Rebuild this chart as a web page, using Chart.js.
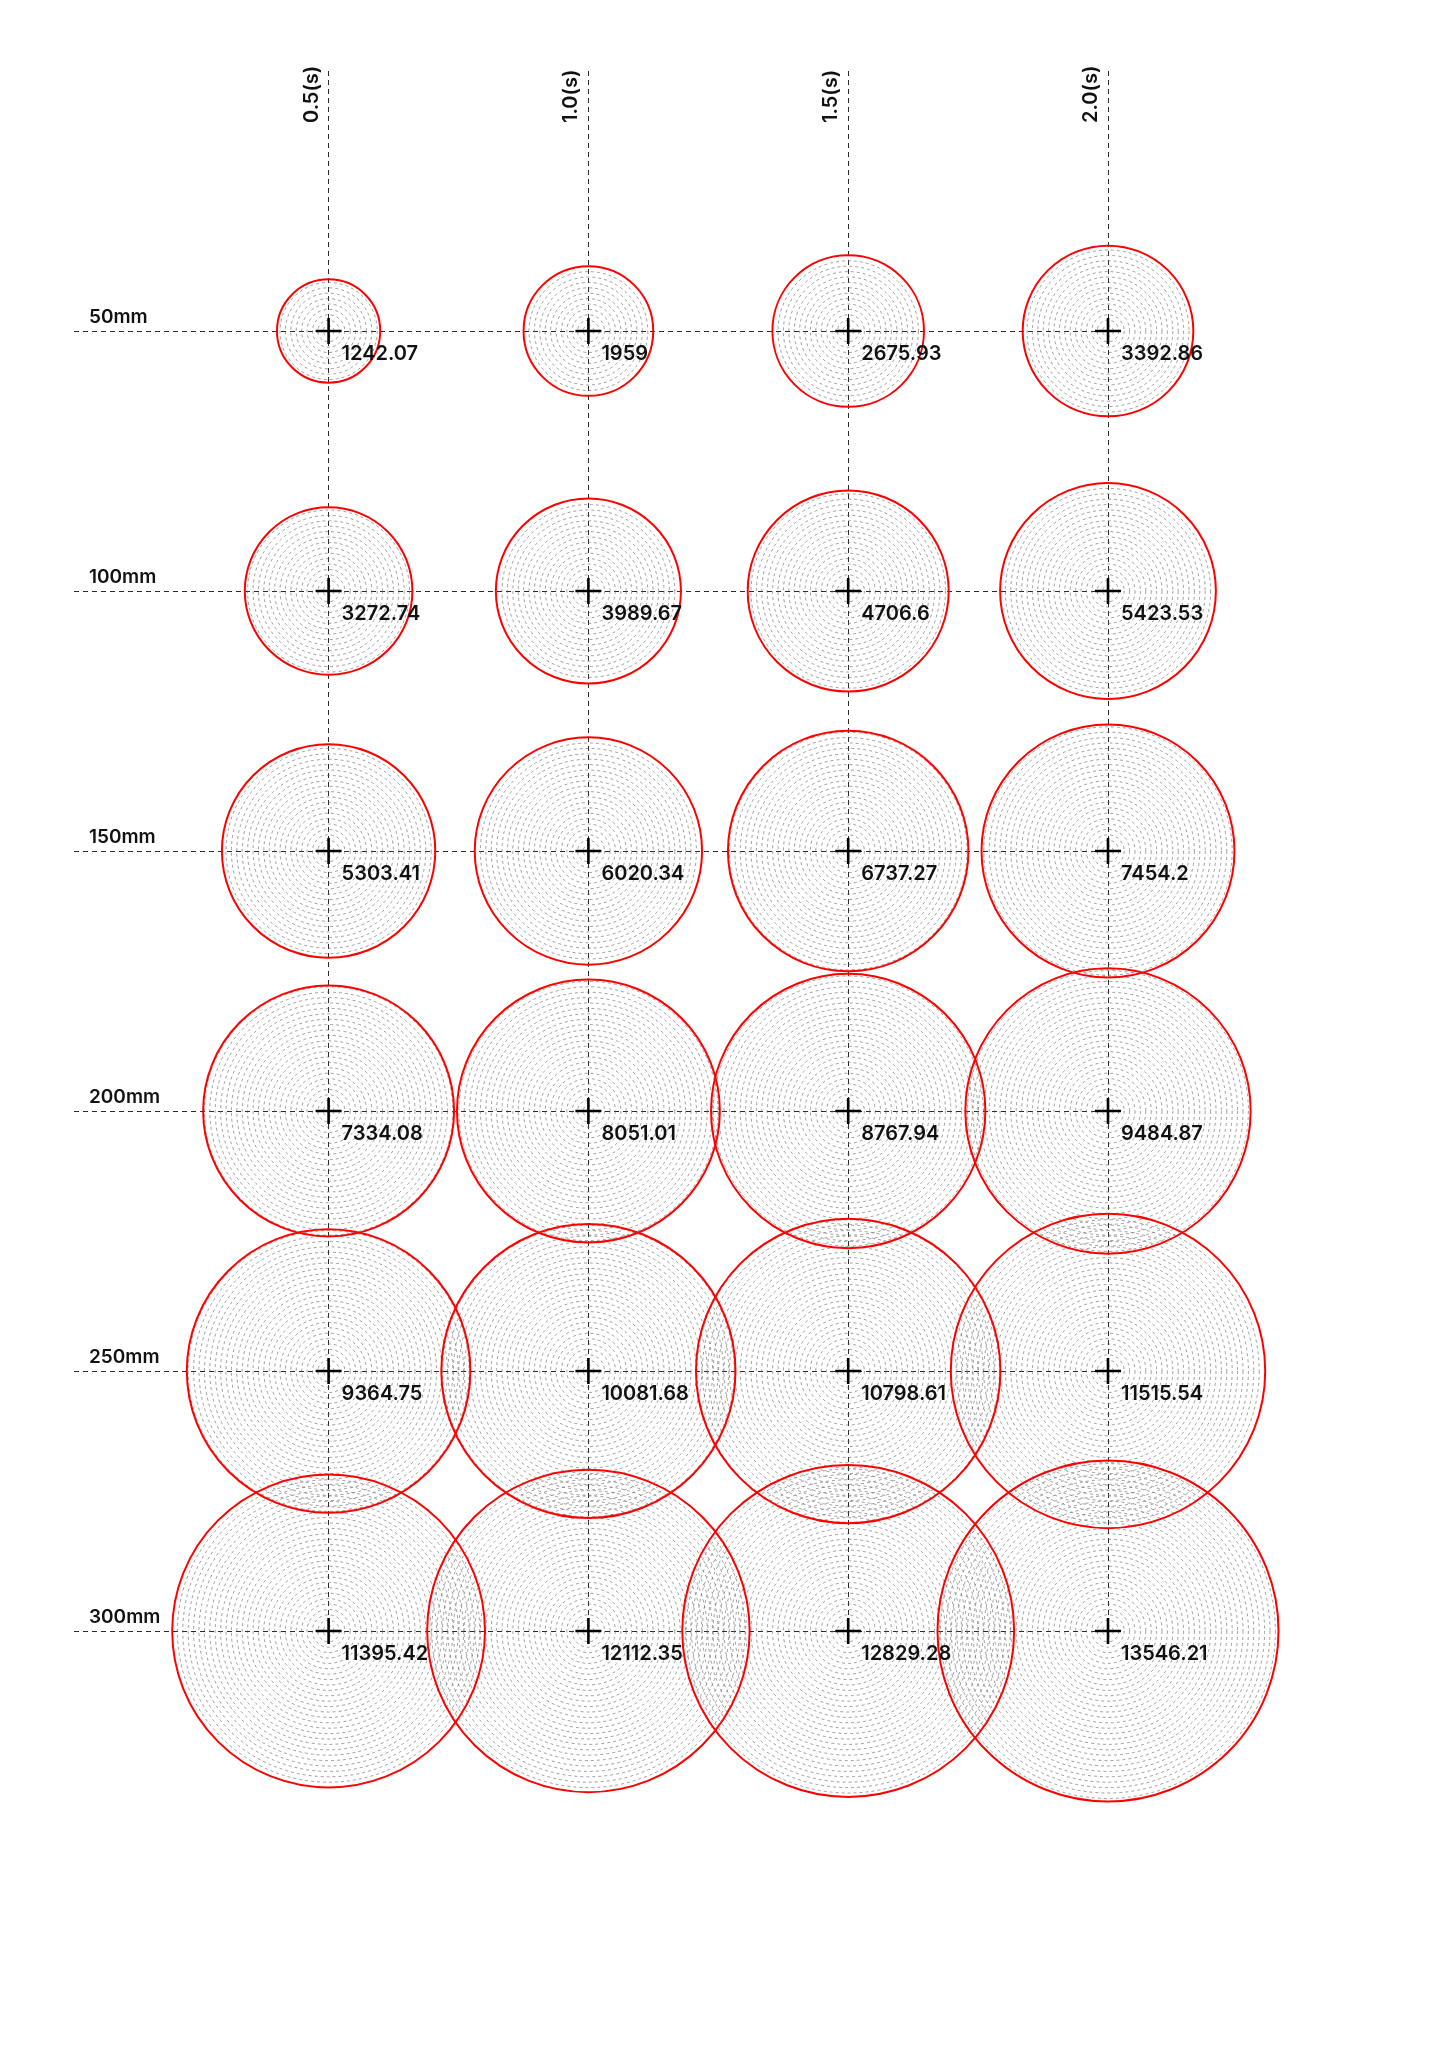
<!DOCTYPE html>
<html>
<head>
<meta charset="utf-8">
<script src="https://cdn.jsdelivr.net/npm/chart.js@4/dist/chart.umd.min.js"></script>
<style>
  html, body { margin: 0; padding: 0; background: #ffffff; }
  #wrap { width: 1448px; height: 2048px; position: relative; background: #ffffff; }
</style>
</head>
<body>
<div id="wrap"><canvas id="c"></canvas></div>
<script>
// ---- data ----
const columnLabels = ['0.5(s)', '1.0(s)', '1.5(s)', '2.0(s)'];
const columnValues = [0.5, 1.0, 1.5, 2.0];
const rowLabels = ['50mm', '100mm', '150mm', '200mm', '250mm', '300mm'];
const rowValues = [50, 100, 150, 200, 250, 300];
const values50mm  = [1242.07, 1959, 2675.93, 3392.86];
const values100mm = [3272.74, 3989.67, 4706.6, 5423.53];
const values150mm = [5303.41, 6020.34, 6737.27, 7454.2];
const values200mm = [7334.08, 8051.01, 8767.94, 9484.87];
const values250mm = [9364.75, 10081.68, 10798.61, 11515.54];
const values300mm = [11395.42, 12112.35, 12829.28, 13546.21];
const valueRows = [values50mm, values100mm, values150mm, values200mm, values250mm, values300mm];

// ---- build points ----
const points = [];
valueRows.forEach((row, i) => {
  row.forEach((v, j) => {
    points.push({ x: columnValues[j], y: rowValues[i], v: v });
  });
});

const RADIUS_K = 1.465;      // px per sqrt(value)
const RING_STEP = 5.4;       // px between concentric dashed rings
const FONT = 'Inter, "Noto Sans", sans-serif';

const ringsPlugin = {
  id: 'rings',
  beforeDatasetsDraw(chart) {
    const meta = chart.getDatasetMeta(0);
    const ctx = chart.ctx;
    ctx.save();
    ctx.strokeStyle = 'rgba(95,95,95,0.75)';
    ctx.lineWidth = 0.8;
    ctx.setLineDash([3, 3]);
    meta.data.forEach(el => {
      const R = el.options.radius;
      for (let r = RING_STEP; r < R - 1; r += RING_STEP) {
        ctx.beginPath();
        ctx.arc(el.x, el.y, r, 0, Math.PI * 2);
        ctx.stroke();
      }
    });
    ctx.restore();
  },
  afterDatasetsDraw(chart) {
    const ctx = chart.ctx;
    const meta = chart.getDatasetMeta(0);
    const xs = chart.scales.x;
    const ys = chart.scales.y;
    const area = chart.chartArea;
    ctx.save();
    ctx.fillStyle = '#111111';
    ctx.textAlign = 'left';
    ctx.textBaseline = 'alphabetic';
    // value labels
    ctx.font = '600 20px ' + FONT;
    meta.data.forEach((el, idx) => {
      const p = points[idx];
      ctx.fillText(String(p.v), el.x + 13, el.y + 29);
    });
    // row labels
    ctx.font = '600 19px ' + FONT;
    rowLabels.forEach((lab, i) => {
      const py = ys.getPixelForValue(rowValues[i]);
      ctx.fillText(lab, area.left + 15, py - 8);
    });
    // column labels (rotated)
    ctx.font = '600 20px ' + FONT;
    columnLabels.forEach((lab, j) => {
      const px = xs.getPixelForValue(columnValues[j]);
      ctx.save();
      ctx.translate(px - 11, area.top + 52);
      ctx.rotate(-Math.PI / 2);
      ctx.fillText(lab, 0, 0);
      ctx.restore();
    });
    ctx.restore();
  }
};

new Chart(document.getElementById('c'), {
  type: 'bubble',
  data: {
    datasets: [
      {
        data: points,
        backgroundColor: 'rgba(0,0,0,0)',
        borderColor: '#ff0000',
        borderWidth: 2,
        radius: ctx => Math.sqrt(ctx.raw.v) * RADIUS_K,
        hoverRadius: 0,
        clip: false
      },
      {
        type: 'scatter',
        data: points,
        pointStyle: 'cross',
        radius: 13,
        borderColor: '#000000',
        borderWidth: 2.6,
        backgroundColor: '#000000',
        clip: false
      }
    ]
  },
  options: {
    responsive: true,
    maintainAspectRatio: false,
    animation: false,
    events: [],
    layout: { autoPadding: false, padding: { left: 74, right: 340, top: 71, bottom: 417 } },
    plugins: { legend: { display: false }, tooltip: { enabled: false } },
    scales: {
      x: {
        type: 'linear',
        position: 'bottom',
        min: 0.01,
        max: 2.0,
        afterBuildTicks: s => { s.ticks = columnValues.map(v => ({ value: v })); },
        ticks: { display: false },
        grid: { color: '#2a2a2a', lineWidth: 1, drawTicks: false },
        border: { display: false, dash: [5, 4] }
      },
      y: {
        type: 'linear',
        position: 'left',
        reverse: true,
        min: 0,
        max: 300,
        afterBuildTicks: s => { s.ticks = rowValues.map(v => ({ value: v })); },
        ticks: { display: false },
        grid: { color: '#2a2a2a', lineWidth: 1, drawTicks: false },
        border: { display: false, dash: [5, 4] }
      }
    }
  },
  plugins: [ringsPlugin]
});
</script>
</body>
</html>
